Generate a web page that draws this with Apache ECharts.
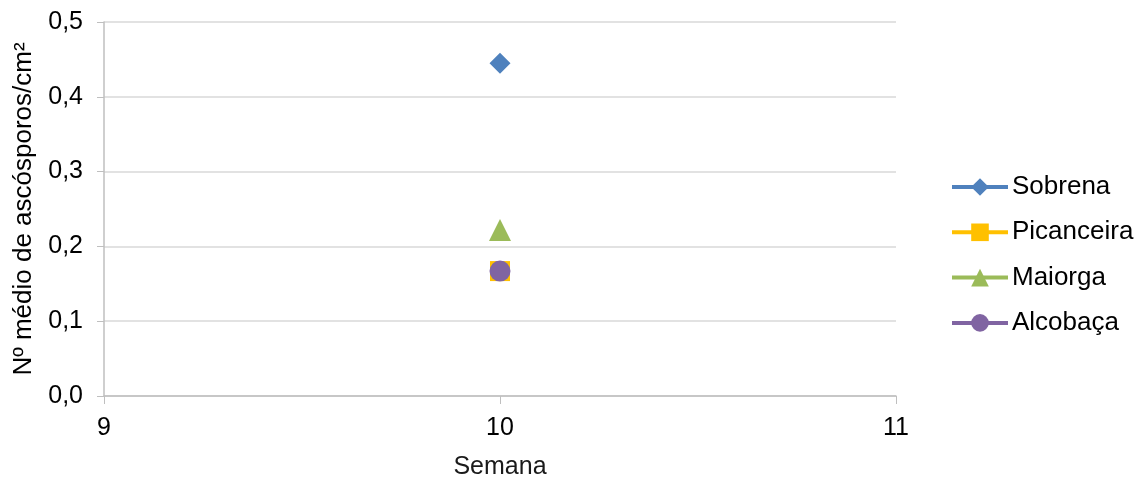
<!DOCTYPE html>
<html><head><meta charset="utf-8">
<script src="https://cdn.jsdelivr.net/npm/echarts@6/dist/echarts.min.js"></script>
<style>html,body{margin:0;padding:0;background:#fff}#c{width:1135px;height:477px}</style>
</head><body><div id="c"></div>
<script>
const weeks = [10];
const sobrena = [0.445];
const picanceira = [0.167];
const maiorga = [0.222];
const alcobaca = [0.167];
const seriesNames = ['Sobrena','Picanceira','Maiorga','Alcobaça'];
const colors = ['#4F81BD','#FFC000','#9BBB59','#8064A2'];
const symbols = ['diamond','rect','triangle','circle'];
const sizes = [21,20,22,21];
const allData = [sobrena, picanceira, maiorga, alcobaca];
const font = 'Liberation Sans, Arial, sans-serif';
const chart = echarts.init(document.getElementById('c'));
chart.setOption({
  animation:false,
  grid:{left:104,right:239,top:22,bottom:81,containLabel:false,outerBoundsMode:'none'},
  legend:{
    orient:'vertical', left:945, top:169, itemGap:19.3, itemWidth:56, itemHeight:22,
    lineStyle:{width:4},
    textStyle:{fontFamily:font,fontSize:26,color:'#000',padding:[0,0,0,-1]},
    data:seriesNames
  },
  xAxis:{type:'value',min:9,max:11,interval:1,
    name:'Semana',nameLocation:'middle',nameGap:59,
    nameTextStyle:{fontFamily:font,fontSize:25,color:'#1a1a1a'},
    axisLine:{show:true,lineStyle:{color:'#bfbfbf',width:1.5}},
    axisTick:{show:true,length:8,lineStyle:{color:'#bfbfbf'}},
    axisLabel:{fontFamily:font,fontSize:25,color:'#000',margin:20},
    splitLine:{show:false}},
  yAxis:{type:'value',min:0,max:0.5,interval:0.1,
    name:'Nº médio de ascósporos/cm²',nameLocation:'middle',nameGap:67,
    nameTextStyle:{fontFamily:font,fontSize:26,color:'#000'},
    axisLine:{show:true,lineStyle:{color:'#bfbfbf',width:1.5}},
    axisTick:{show:true,length:7,lineStyle:{color:'#bfbfbf'}},
    axisLabel:{fontFamily:font,fontSize:25,color:'#000',margin:21,
      formatter:v=>v.toFixed(1).replace('.',',')},
    splitLine:{show:true,lineStyle:{color:'#d9d9d9',width:1.5}}},
  series: seriesNames.map((n,i)=>({
    name:n,type:'line',symbol:symbols[i],symbolSize:sizes[i],
    itemStyle:{color:colors[i]},lineStyle:{color:colors[i],width:4},
    data: weeks.map((w,j)=>[w, allData[i][j]])
  }))
});
</script></body></html>
